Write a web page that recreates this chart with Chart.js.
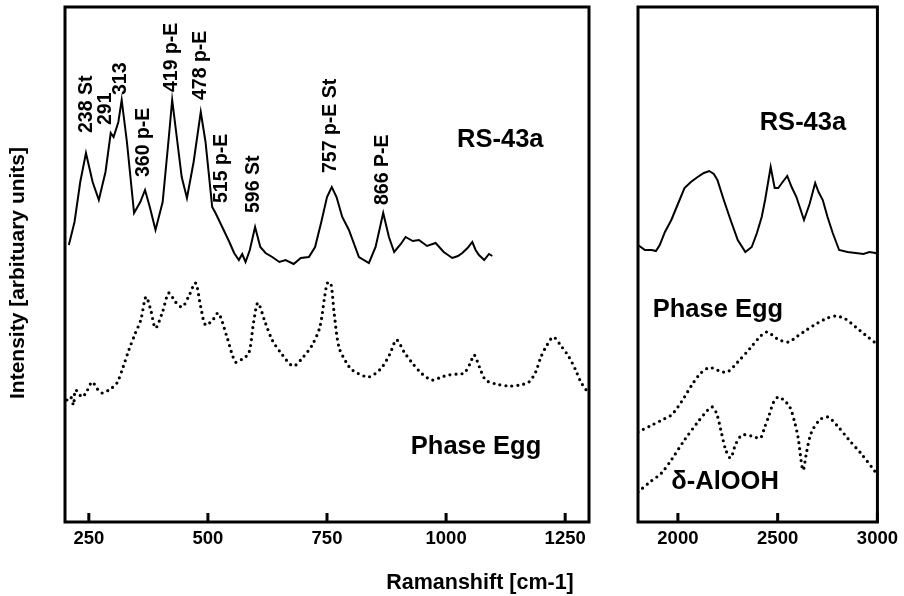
<!DOCTYPE html>
<html><head><meta charset="utf-8">
<script src="https://cdn.jsdelivr.net/npm/chart.js@4/dist/chart.umd.min.js"></script>
<style>
html,body{margin:0;padding:0;background:#fff;width:904px;height:596px;overflow:hidden;position:relative;}
#c1{position:absolute;left:0;top:0;}
#c2{position:absolute;left:600px;top:0;}
#xt{position:absolute;left:280px;width:400px;top:570px;text-align:center;font:bold 21.5px "Liberation Sans",Arial,sans-serif;color:#000;white-space:nowrap;}
#yt{position:absolute;left:17px;top:273px;transform:translate(-50%,-50%) rotate(-90deg);font:bold 21px "Liberation Sans",Arial,sans-serif;color:#000;white-space:nowrap;}
</style></head>
<body>
<canvas id="c1" width="600" height="596"></canvas>
<canvas id="c2" width="304" height="596"></canvas>
<div id="xt">Ramanshift [cm-1]</div>
<div id="yt">Intensity [arbituary units]</div>
<script>
// ---- tick labels ----
const leftTicks = [250, 500, 750, 1000, 1250];
const rightTicks = [2000, 2500, 3000];

// ---- RS-43a, low wavenumber panel ----
const rsLeftX = [208,220,232,244,258,271,285,296,302,312,319,330,345,358,368,378,390,405,418,425,432,445,456,470,485,495,509,516,530,545,555,565,572,579,588,599,610,621,635,650,663,680,695,712,725,738,750,760,770,782,796,817,838,852,868,880,891,905,915,930,943,960,978,995,1013,1025,1034,1045,1055,1062,1069,1080,1090,1097];
const rsLeftY = [277,300,340,369,340,322,350,389,385,400,422,380,309,320,332,315,292,320,385,422,395,345,324,360,410,380,315,309,295,280,269,262,268,260,272,295,275,269,265,260,262,258,264,265,275,300,325,335,325,305,292,265,259,275,309,285,270,278,285,281,282,276,279,270,264,266,269,274,280,272,267,262,268,266];

// ---- Phase Egg, low wavenumber panel ----
const eggLeftX = [204,212,218,222,236,246,257,268,278,295,309,322,334,347,359,370,380,390,404,418,432,446,460,474,485,495,510,522,540,558,572,586,596,605,620,635,655,679,700,719,735,745,751,758,765,775,790,803,835,850,866,882,896,912,929,950,971,990,1006,1025,1038,1050,1059,1070,1083,1105,1132,1155,1174,1188,1199,1212,1225,1240,1258,1272,1283,1300];
const eggLeftY = [122,125,117,132,125,131,140,133,129,133,139,155,172,188,202,225,212,194,209,229,220,215,226,239,215,197,202,209,185,160,163,169,200,219,200,182,168,156,165,177,195,225,239,239,209,175,160,152,145,148,155,168,182,170,159,148,142,145,147,148,149,158,167,155,142,138,136,137,140,150,165,177,185,177,165,152,140,128];

// ---- RS-43a, high wavenumber panel ----
const rsRightX = [1800,1835,1868,1890,1909,1935,1967,2000,2033,2065,2099,2130,2157,2180,2198,2230,2264,2300,2338,2370,2396,2420,2437,2465,2485,2503,2525,2548,2570,2594,2632,2660,2688,2705,2726,2750,2776,2808,2850,2891,2930,2960,2990,3000];
const rsRightY = [277,272,272,271,277,290,302,318,334,340,345,349,351,348,342,322,302,282,270,275,289,305,322,355,334,334,340,346,335,325,302,318,339,330,322,305,289,272,270,269,268,270,269,268];

// ---- Phase Egg, high wavenumber panel ----
const eggRightX = [1800,1870,1930,1967,2000,2033,2070,2110,2150,2173,2210,2248,2300,2363,2410,2446,2500,2553,2600,2644,2700,2750,2792,2840,2891,2940,2990,3000];
const eggRightY = [90,97,103,107,115,125,137,148,154,154,151,150,160,174,185,190,183,180,186,192,199,204,206,203,195,187,179,177];

// ---- delta-AlOOH, high wavenumber panel ----
const alX = [1800,1860,1918,1970,2033,2100,2150,2173,2195,2215,2240,2264,2290,2322,2370,2413,2435,2454,2480,2503,2530,2561,2585,2602,2627,2645,2668,2710,2751,2800,2858,2920,2990,3000];
const alY = [30,40,49,63,82,100,112,115,108,92,72,64,78,87,86,84,95,105,120,125,122,115,100,85,52,70,89,102,105,96,82,68,50,47];

// ---- peak annotations (rotated), anchored at data coordinates ----
const peakText = ['238 St','291','313','360 p-E','419 p-E','478 p-E','515 p-E','596 St','757 p-E St','866 P-E'];
const peakX = [246,286,317,366,424,485,529,597,758,866];
const peakY = [389,397,427,345,430,422,319,309,349,317];

// ---- sample labels ----
const leftLabelText = ['RS-43a','Phase Egg'];
const leftLabelX = [1023,926];
const leftLabelY = [382,75];
const rightLabelText = ['RS-43a','Phase Egg','\u03B4-AlOOH'];
const rightLabelX = [2410,1874,1967];
const rightLabelY = [399,212,40];

const FONT = '"Liberation Sans", Arial, sans-serif';

function pts(xs, ys){ return xs.map((x,i)=>({x:x, y:ys[i]})); }

function makeFrame(rot, horiz){
  return {
    id:'frame',
    afterDatasetsDraw(chart){
      const ctx = chart.ctx, a = chart.chartArea, xs = chart.scales.x, ys = chart.scales.y;
      ctx.save();
      ctx.strokeStyle = '#000'; ctx.lineWidth = 3; ctx.lineCap = 'butt';
      ctx.strokeRect(a.left, a.top, a.right - a.left, a.bottom - a.top);
      xs.ticks.forEach(t => {
        const px = xs.getPixelForValue(t.value);
        ctx.beginPath(); ctx.moveTo(px, a.bottom); ctx.lineTo(px, a.bottom - 9); ctx.stroke();
      });
      ctx.fillStyle = '#000';
      if (rot) {
        ctx.font = 'bold 19.5px ' + FONT;
        ctx.textAlign = 'left'; ctx.textBaseline = 'middle';
        rot.text.forEach((s,i) => {
          const px = xs.getPixelForValue(rot.x[i]), py = ys.getPixelForValue(rot.y[i]);
          ctx.save(); ctx.translate(px, py); ctx.rotate(-Math.PI/2); ctx.fillText(s, 0, 0); ctx.restore();
        });
      }
      ctx.font = 'bold 25.5px ' + FONT;
      ctx.textAlign = 'left'; ctx.textBaseline = 'middle';
      horiz.text.forEach((s,i) => {
        ctx.fillText(s, xs.getPixelForValue(horiz.x[i]), ys.getPixelForValue(horiz.y[i]));
      });
      ctx.restore();
    }
  };
}

const solid = {borderColor:'#000', borderWidth:2, pointRadius:0, tension:0, fill:false};
const dotted = {borderColor:'#000', borderWidth:3.2, borderDash:[0,6], borderCapStyle:'round', pointRadius:0, tension:0.3, fill:false};

function axisOpts(min, max, ticks, h){
  return {
    type:'linear', min:min, max:max,
    grid:{display:false, drawTicks:false}, border:{display:false},
    ticks:{color:'#000', font:{family:FONT, weight:'bold', size:18.5}, padding:6, autoSkip:false, maxRotation:0,
           callback: v => String(v)},
    afterBuildTicks: s => { s.ticks = ticks.map(v => ({value:v})); },
    afterFit: s => { s.height = h; }
  };
}

new Chart(document.getElementById('c1'), {
  type:'line',
  data:{datasets:[
    Object.assign({label:'RS-43a', data:pts(rsLeftX, rsLeftY)}, solid),
    Object.assign({label:'Phase Egg', data:pts(eggLeftX, eggLeftY)}, dotted)
  ]},
  options:{
    responsive:false, animation:false, parsing:false,
    layout:{padding:{top:7, right:11, left:0, bottom:0}},
    plugins:{legend:{display:false}, tooltip:{enabled:false}},
    scales:{
      x: axisOpts(200, 1300, leftTicks, 74),
      y:{type:'linear', min:0, max:515, grid:{display:false, drawTicks:false}, border:{display:false}, ticks:{display:false}, afterFit: s => { s.width = 65; }}
    }
  },
  plugins:[makeFrame({text:peakText, x:peakX, y:peakY}, {text:leftLabelText, x:leftLabelX, y:leftLabelY})]
});

new Chart(document.getElementById('c2'), {
  type:'line',
  data:{datasets:[
    Object.assign({label:'RS-43a', data:pts(rsRightX, rsRightY)}, solid),
    Object.assign({label:'Phase Egg', data:pts(eggRightX, eggRightY)}, dotted),
    Object.assign({label:'\u03B4-AlOOH', data:pts(alX, alY)}, dotted)
  ]},
  options:{
    responsive:false, animation:false, parsing:false,
    layout:{padding:{top:7, right:22, left:38, bottom:0}},
    plugins:{legend:{display:false}, tooltip:{enabled:false}},
    scales:{
      x: axisOpts(1800, 3000, rightTicks, 74),
      y:{type:'linear', min:0, max:515, display:false}
    }
  },
  plugins:[makeFrame(null, {text:rightLabelText, x:rightLabelX, y:rightLabelY})]
});
</script>
</body></html>
